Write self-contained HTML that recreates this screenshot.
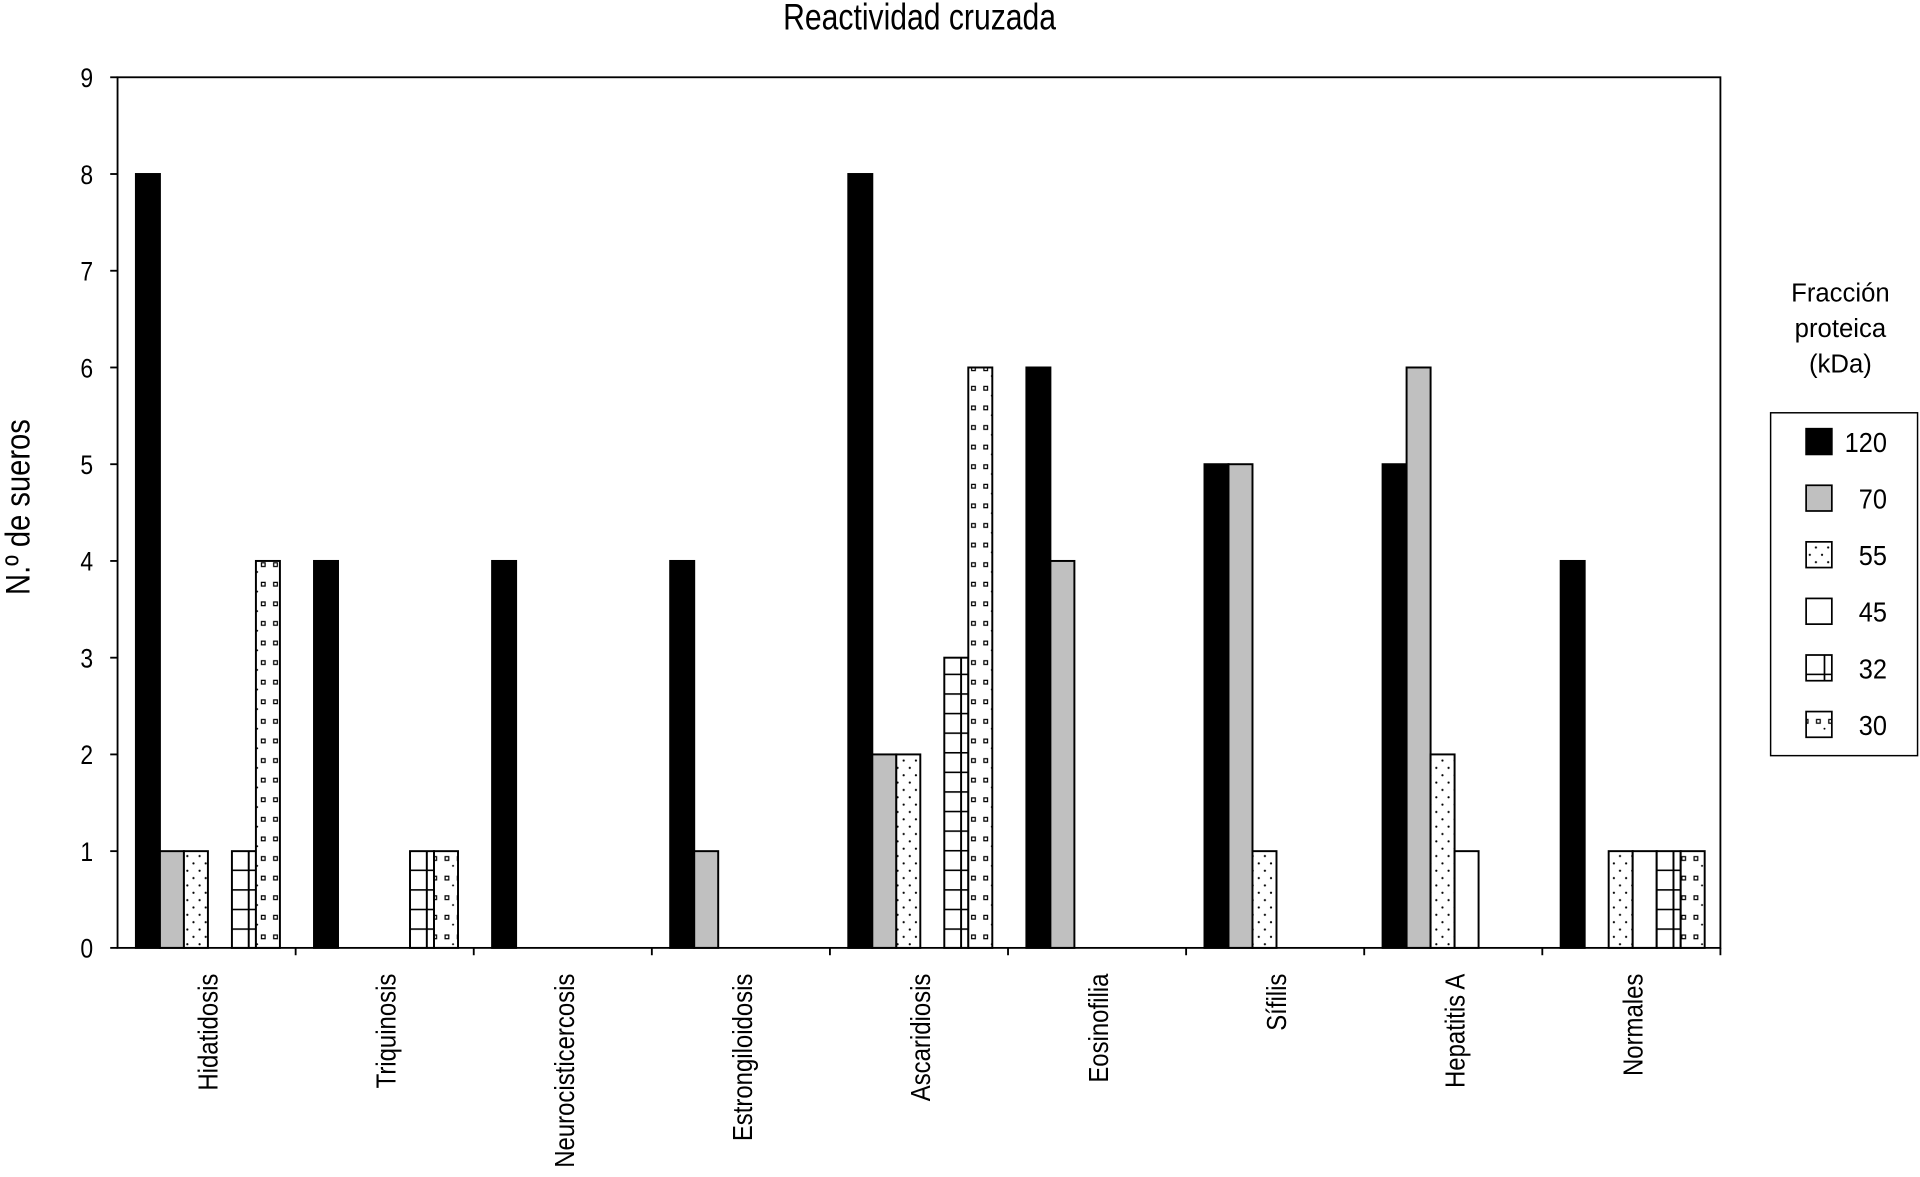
<!DOCTYPE html>
<html><head><meta charset="utf-8"><style>
html,body{margin:0;padding:0;background:#fff;}
svg{display:block;font-family:"Liberation Sans",sans-serif;}
</style></head><body>
<svg id="chart" width="1920" height="1177" viewBox="0 0 1568 961" xmlns="http://www.w3.org/2000/svg">
<defs>
<pattern id="p55" width="10" height="12" patternUnits="userSpaceOnUse"><rect width="10" height="12" fill="#fff"/><circle cx="3" cy="3" r="0.9" fill="#000"/><circle cx="8" cy="9" r="0.9" fill="#000"/></pattern>
<pattern id="p32" width="20" height="16" patternUnits="userSpaceOnUse" x="0" y="774"><rect width="20" height="16" fill="#fff"/><line x1="0" y1="0.5" x2="20" y2="0.5" stroke="#000" stroke-width="1.6"/></pattern>
<pattern id="p30" width="20" height="16" patternUnits="userSpaceOnUse" x="0" y="774"><rect width="20" height="16" fill="#fff"/><rect x="3" y="5" width="4" height="4" fill="#000"/><rect x="4" y="6" width="2" height="2" fill="#fff"/><rect x="13" y="5" width="4" height="4" fill="#000"/><rect x="14" y="6" width="2" height="2" fill="#fff"/><circle cx="10" cy="13" r="0.8" fill="#000"/></pattern>
</defs>
<text font-size="30" text-anchor="middle" transform="translate(751 24) scale(0.82 1)">Reactividad cruzada</text>
<text font-size="28" text-anchor="middle" transform="translate(24 414) rotate(-90) scale(0.85 1)">N.º de sueros</text>
<rect x="96" y="63" width="1309" height="711" fill="none" stroke="#000" stroke-width="1.5"/>
<g id="yt"></g><g id="bars"></g><g id="xl"></g>
<text x="1503" y="246" text-anchor="middle" font-size="21"><tspan x="1503">Fracción</tspan><tspan x="1503" dy="29">proteica</tspan><tspan x="1503" dy="29">(kDa)</tspan></text>
<rect x="1446" y="337" width="120" height="280" fill="#fff" stroke="#000" stroke-width="1.2"/>
<g id="leg"></g>
</svg>
<script>
const categories=["Hidatidosis","Triquinosis","Neurocisticercosis","Estrongiloidosis","Ascaridiosis","Eosinofilia","Sífilis","Hepatitis A","Normales"];
const seriesNames=["120","70","55","45","32","30"];
const s120=[8,4,4,4,8,6,5,5,4];
const s70=[1,0,0,1,2,4,5,6,0];
const s55=[1,0,0,0,2,0,1,2,1];
const s45=[0,0,0,0,0,0,0,1,1];
const s32=[1,1,0,0,3,0,0,0,1];
const s30=[4,1,0,0,6,0,0,0,1];
const yTicks=[0,1,2,3,4,5,6,7,8,9];
const series=[s120,s70,s55,s45,s32,s30];
const fills=["#000","#c0c0c0","url(#p55)","#fff","url(#p32)","url(#p30)"];
const NS="http://www.w3.org/2000/svg";
const X0=96,X1=1405,Y0=774,Y1=63,YMAX=9;
const gw=(X1-X0)/categories.length, bw=19.6, off=15;
const y=v=>Y0-(Y0-Y1)*v/YMAX;
function mk(t,a,p){const e=document.createElementNS(NS,t);for(const k in a)e.setAttribute(k,a[k]);p.appendChild(e);return e;}
const yt=document.getElementById('yt');
yTicks.forEach(v=>{
 const l=mk('line',{x1:90,x2:96,y1:y(v),y2:y(v),stroke:'#000','stroke-width':1.5},yt);
 
 
 const t=mk('text',{'text-anchor':'end','font-size':22,transform:`translate(76 ${y(v)+8}) scale(0.85 1)`},yt);t.textContent=v;
 
 
});
const bars=document.getElementById('bars'),xl=document.getElementById('xl');
categories.forEach((c,i)=>{
 const gx=X0+i*gw;
 const tk=mk('line',{x1:gx+gw,x2:gx+gw,y1:Y0,y2:Y0+6,stroke:'#000','stroke-width':1.5},xl);
 
 
 series.forEach((s,j)=>{
  if(s[i]<=0)return;
  const bx=gx+off+j*bw;
  const r=mk('rect',{x:bx,y:y(s[i]),width:bw,height:Y0-y(s[i]),fill:fills[j],stroke:'#000','stroke-width':1.6},bars);
  
  
  if(j===4){
   const vl=mk('line',{x1:bx+bw*0.7,x2:bx+bw*0.7,y1:y(s[i]),y2:Y0,stroke:'#000','stroke-width':1.6},bars);
   
   
  }
 });
 const cx=gx+gw/2+9;
 const t=mk('text',{'font-size':23,'text-anchor':'end',transform:`translate(${cx} 795) rotate(-90) scale(0.85 1)`},xl);
 t.textContent=c;
 
 
});
const leg=document.getElementById('leg');
seriesNames.forEach((n,j)=>{
 const yy=350+j*46.2;
 const r=mk('rect',{x:1475,y:yy,width:21,height:21,fill:fills[j],stroke:'#000','stroke-width':1.4},leg);
 
 
 if(j===4){
  const vl=mk('line',{x1:1490,x2:1490,y1:yy,y2:yy+21,stroke:'#000','stroke-width':1.4},leg);
  
  
 }
 const t=mk('text',{'text-anchor':'end','font-size':23,transform:`translate(1541 ${yy+19}) scale(0.9 1)`},leg);t.textContent=n;
 
 
});
</script>
</body></html>
